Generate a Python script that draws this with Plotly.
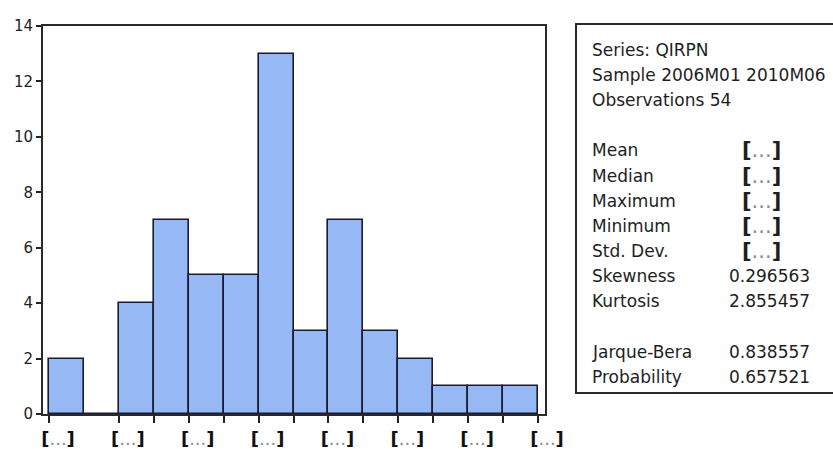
import plotly.graph_objects as go

# ---- data ----
counts = [2, 0, 4, 7, 5, 5, 13, 3, 7, 3, 2, 1, 1, 1]          # histogram frequencies per bin
bin_edges = list(range(len(counts) + 1))                         # bin edges (in bin-width units)
x_tick_label = "[...]"                                           # redacted bin-edge labels
y_ticks = [0, 2, 4, 6, 8, 10, 12, 14]

stat_header = ["Series: QIRPN", "Sample 2006M01 2010M06", "Observations 54"]
stat_names = ["Mean", "Median", "Maximum", "Minimum", "Std. Dev.", "Skewness", "Kurtosis"]
stat_values = ["[...]", "[...]", "[...]", "[...]", "[...]", "0.296563", "2.855457"]
test_names = ["Jarque-Bera", "Probability"]
test_values = ["0.838557", "0.657521"]

# ---- layout geometry (pixels) ----
W, H = 833, 449
PL, PR, PT, PB = 43, 545, 26, 414


def px(x):
    return (x - PL) / (PR - PL)


def py(y):
    return (PB - y) / (PB - PT)


BAR_FILL = "#96B9F6"
EDGE = "#1a1a30"
TXT = "#1e1e1e"


def redacted(label, size=None):
    inner = label[1:-1]
    s = "<b>[</b><span style='color:#8a8a8a'>%s</span><b>]</b>" % inner
    if size:
        s = "<span style='font-size:%dpx'>%s</span>" % (size, s)
    return s


centers = [(bin_edges[i] + bin_edges[i + 1]) / 2 for i in range(len(counts))]
widths = [bin_edges[i + 1] - bin_edges[i] for i in range(len(counts))]

fig = go.Figure()
fig.add_trace(go.Bar(
    x=centers, y=counts, width=widths,
    marker=dict(color=BAR_FILL, line=dict(color=EDGE, width=1.6)),
    hoverinfo="skip", showlegend=False,
))

# ticks at edges touching a non-empty bin on their right, plus the last edge
tickvals, ticktext = [], []
for e in bin_edges:
    if e == len(counts) or counts[e] > 0:
        tickvals.append(e)
        ticktext.append(redacted(x_tick_label) if e % 2 == 0 else "")

fig.update_xaxes(
    range=[-0.172, 14.2], tickvals=tickvals, ticktext=ticktext,
    ticks="outside", ticklen=7, tickwidth=2, tickcolor="#222",
    showline=True, linecolor="#2a2a2a", linewidth=2, mirror=True,
    showgrid=False, zeroline=False, ticklabelshift=9, automargin=False,
    tickfont=dict(family="DejaVu Sans", size=18, color="#111"),
)
fig.update_yaxes(
    range=[0, 14], tickvals=y_ticks,
    ticks="outside", ticklen=5, tickwidth=2, tickcolor="#222",
    showline=True, linecolor="#2a2a2a", linewidth=2, mirror=True,
    showgrid=False, zeroline=False, automargin=False,
    tickfont=dict(family="DejaVu Sans", size=15, color="#222"),
)

# stats box
BOX_L, BOX_R, BOX_T, BOX_B = 576, 850, 24, 393
fig.add_shape(type="rect", xref="paper", yref="paper",
              x0=px(BOX_L), x1=px(BOX_R), y0=py(BOX_B), y1=py(BOX_T),
              line=dict(color="#2a2a2a", width=2), fillcolor="white", layer="below")

LAB_X, VAL_X, RED_X = 590, 727, 740


def row_y(k):
    return 49.5 + 25.2 * k


font = dict(family="DejaVu Sans", size=17, color=TXT)
ann = []
for k, t in enumerate(stat_header):
    ann.append(dict(x=px(LAB_X), y=py(row_y(k)), text=t))
for k, (n, v) in enumerate(zip(stat_names, stat_values)):
    ann.append(dict(x=px(LAB_X), y=py(row_y(4 + k)), text=n))
    if v.startswith("["):
        ann.append(dict(x=px(RED_X), y=py(row_y(4 + k)), text=redacted(v, 21)))
    else:
        ann.append(dict(x=px(VAL_X), y=py(row_y(4 + k)), text=v))
for k, (n, v) in enumerate(zip(test_names, test_values)):
    ann.append(dict(x=px(LAB_X), y=py(row_y(12 + k)), text=n))
    ann.append(dict(x=px(VAL_X), y=py(row_y(12 + k)), text=v))
for a in ann:
    a.update(xref="paper", yref="paper", xanchor="left", yanchor="middle",
             showarrow=False, font=font)

fig.update_layout(
    width=W, height=H, autosize=False,
    margin=dict(l=PL, r=W - PR, t=PT, b=H - PB, pad=0, autoexpand=False),
    paper_bgcolor="white", plot_bgcolor="white",
    bargap=0, annotations=ann,
)

fig.write_html("out.html", config={"displayModeBar": False},
               post_script="document.body.style.margin='0';document.body.style.overflow='hidden';")
